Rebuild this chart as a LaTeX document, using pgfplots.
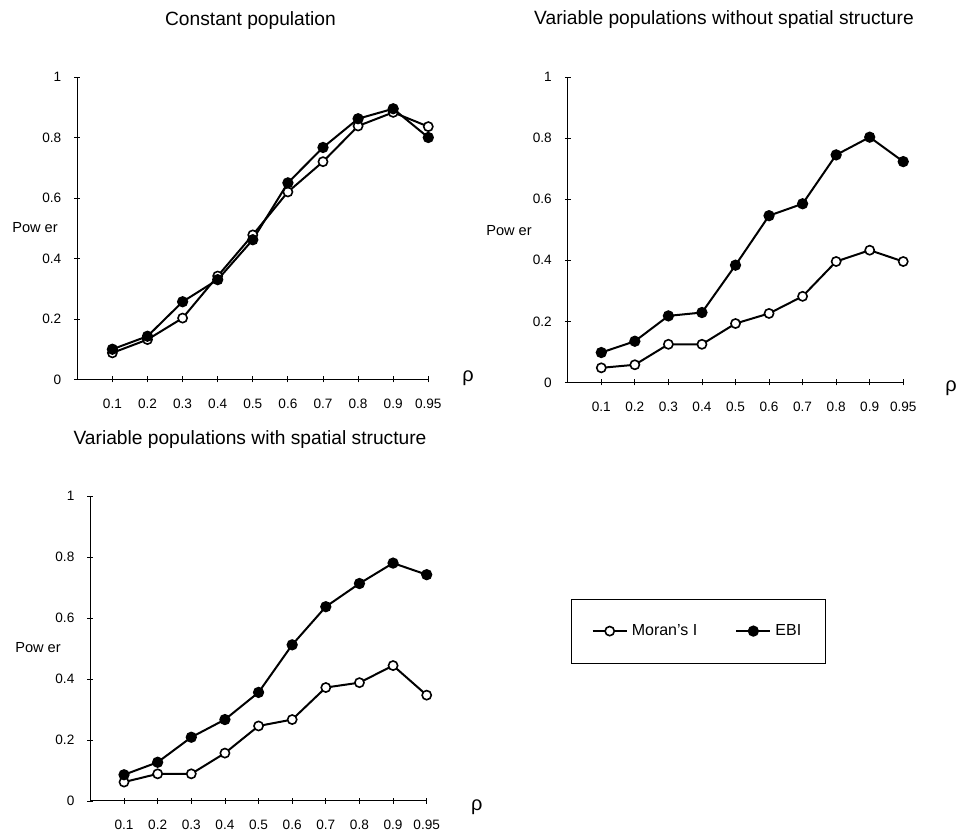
\documentclass[border=0pt]{standalone}
\usepackage{fontspec}
\setmainfont{Liberation Sans}
\usepackage{pgfplots}
\pgfplotsset{compat=1.18}
\pgfplotsset{
  panel/.style={
    scale only axis, anchor=south west,
    xmin=0, xmax=10, ymin=0, ymax=1,
    axis x line*=bottom, axis y line*=left,
    xtick={1,2,3,4,5,6,7,8,9,10},
    xticklabels={0.1,0.2,0.3,0.4,0.5,0.6,0.7,0.8,0.9,0.95},
    ytick={0,0.2,0.4,0.6,0.8,1},
    yticklabels={0,0.2,0.4,0.6,0.8,1},
    tick align=center, major tick length=3pt,
    tick style={black, line width=0.4pt},
    axis line style={black, line width=0.5pt},
    ticklabel style={font=\fontsize{6.8}{8}\selectfont},
    xticklabel style={yshift=-4.5pt},
    yticklabel style={xshift=-3pt},
    clip=false,
  },
  moran/.style={black, line width=1pt, mark=*, mark size=2.3pt,
    mark options={fill=white, line width=0.8pt}},
  ebi/.style={black, line width=1pt, mark=*, mark size=2.3pt,
    mark options={fill=black}},
}
\begin{document}
\begin{tikzpicture}
\useasboundingbox (0,0) rectangle (480pt,417pt);

% Panel 1
\begin{axis}[panel, at={(38.65pt,227.25pt)}, width=175.5pt, height=151.25pt]
\addplot[moran] coordinates {(1,0.088) (2,0.132) (3,0.203) (4,0.342) (5,0.478) (6,0.620) (7,0.720) (8,0.838) (9,0.883) (10,0.836)};
\addplot[ebi] coordinates {(1,0.100) (2,0.143) (3,0.257) (4,0.330) (5,0.462) (6,0.650) (7,0.767) (8,0.862) (9,0.895) (10,0.800)};
\end{axis}

% Panel 2
\begin{axis}[panel, at={(283.875pt,225.75pt)}, width=167.75pt, height=152.75pt]
\addplot[moran] coordinates {(1,0.048) (2,0.058) (3,0.125) (4,0.125) (5,0.193) (6,0.226) (7,0.282) (8,0.396) (9,0.433) (10,0.396)};
\addplot[ebi] coordinates {(1,0.098) (2,0.135) (3,0.218) (4,0.229) (5,0.384) (6,0.546) (7,0.585) (8,0.745) (9,0.803) (10,0.723)};
\end{axis}

% Panel 3
\begin{axis}[panel, at={(45.2pt,16.5pt)}, width=168.15pt, height=152.5pt,
  legend columns=2,
  legend style={at={(1.808,0.557)}, anchor=center, draw=black, line width=0.5pt,
    inner xsep=10pt, inner ysep=10.5pt, font=\fontsize{8}{9}\selectfont,
    /tikz/every even column/.append style={column sep=17pt}},
  legend cell align=left]
\addplot[moran] coordinates {(1,0.062) (2,0.089) (3,0.089) (4,0.157) (5,0.246) (6,0.267) (7,0.372) (8,0.388) (9,0.444) (10,0.347)};
\addlegendentry{Moran's I}
\addplot[ebi] coordinates {(1,0.086) (2,0.127) (3,0.209) (4,0.267) (5,0.356) (6,0.512) (7,0.637) (8,0.713) (9,0.780) (10,0.742)};
\addlegendentry{EBI}
\end{axis}

% Titles and labels
\node[font=\fontsize{9.6}{11}\selectfont] at (125.25pt,406.5pt) {Constant population};
\node[font=\fontsize{9.6}{11}\selectfont] at (362pt,407pt) {Variable populations without spatial structure};
\node[font=\fontsize{9.6}{11}\selectfont] at (125pt,197pt) {Variable populations with spatial structure};
\node[font=\fontsize{7.3}{8}\selectfont] at (17.5pt,303pt) {Pow er};
\node[font=\fontsize{7.3}{8}\selectfont] at (254.5pt,301.5pt) {Pow er};
\node[font=\fontsize{7.3}{8}\selectfont] at (19pt,93pt) {Pow er};
\node[font=\fontsize{10}{11}\selectfont] at (234pt,228pt) {ρ};
\node[font=\fontsize{10}{11}\selectfont] at (475.5pt,223pt) {ρ};
\node[font=\fontsize{10}{11}\selectfont] at (238.35pt,13.65pt) {ρ};
\end{tikzpicture}
\end{document}
